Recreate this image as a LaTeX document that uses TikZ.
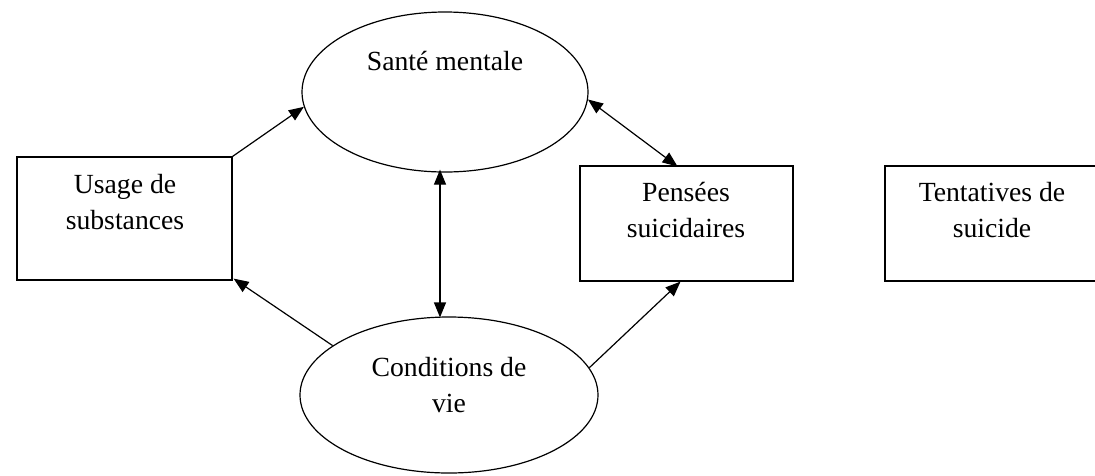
\documentclass[tikz,border=0pt]{standalone}
\usepackage{fontspec}
\setmainfont{Liberation Serif}
\usetikzlibrary{shapes.geometric,arrows.meta}
\begin{document}
\begin{tikzpicture}[x=1pt,y=-1pt,
  line width=1.2pt,
  arr/.style={-{Triangle[length=15pt,width=12pt]}},
  barr/.style={{Triangle[length=15pt,width=12pt]}-{Triangle[length=15pt,width=12pt]}},
  boxshape/.style={draw,rectangle,inner sep=0pt},
  ovalshape/.style={draw,ellipse,inner sep=0pt},
  lbl/.style={align=center,anchor=base,inner sep=0pt,font=\fontsize{27.7}{36}\selectfont}]
\useasboundingbox (0,0) rectangle (1095,475);
\clip (0,0) rectangle (1095,475);
% shapes
\node[ovalshape,minimum width=286pt,minimum height=160pt] (sante) at (445,92) {};
\node[ovalshape,minimum width=298pt,minimum height=156pt] (cond) at (449,395) {};
\node[boxshape,minimum width=215pt,minimum height=123pt] (usage) at (124.5,218.5) {};
\node[boxshape,minimum width=213pt,minimum height=115pt] (pens) at (686.5,223.5) {};
\node[boxshape,minimum width=230pt,minimum height=115pt] (tent) at (1000,223.5) {};
% labels (base anchor = baseline of last line)
\node[lbl] (tsante) at (445,70) {Santé mentale};
\node[lbl] (tcond) at (449,412) {Conditions de\\vie};
\node[lbl] (tusage) at (125,229) {Usage de\\substances};
\node[lbl] (tpens) at (686,237) {Pensées\\suicidaires};
\node[lbl] (ttent) at (992,237) {Tentatives de\\suicide};
% connectors
\draw[arr] (usage.north east) -- (sante.186);
\draw[barr] (sante.357) -- ([xshift=-9pt,yshift=-1pt]pens.north);
\draw[barr] ([xshift=-5pt,yshift=3pt]sante.south) -- ([xshift=-9pt,yshift=-1pt]cond.north);
\draw[arr] (cond.157) -- ([xshift=1pt,yshift=2pt]usage.south east);
\draw[arr] (cond.11.4) -- ([xshift=-6pt]pens.south);
\end{tikzpicture}
\end{document}
